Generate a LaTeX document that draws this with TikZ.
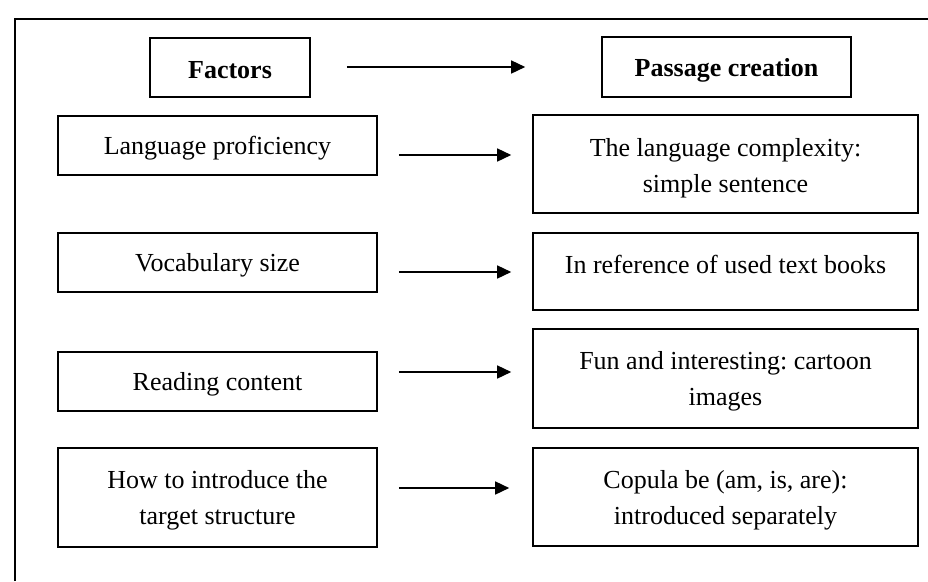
\documentclass[tikz,border=0pt]{standalone}
\usepackage{fontspec}
\setmainfont{Liberation Serif}
\frenchspacing
\usetikzlibrary{arrows.meta}
\tikzset{
  boxnode/.style={draw=black, line width=1.6pt, inner sep=0pt},
  leftbox/.style={boxnode, minimum width=319pt},
  rightbox/.style={boxnode, minimum width=385pt},
  txt/.style={inner sep=0pt, align=center, font=\fontsize{26}{36}\selectfont\frenchspacing},
  btxt/.style={txt, font=\fontsize{26}{36}\selectfont\bfseries},
  arr/.style={line width=1.5pt, -{Triangle[length=14pt,width=13pt]}},
  frameline/.style={line width=2pt}
}
\begin{document}
\begin{tikzpicture}[x=1pt,y=-1pt]
\useasboundingbox (0,0) rectangle (928,581);
\fill[white] (0,0) rectangle (928,581);
% outer frame
\coordinate (ftl) at (15,19);
\coordinate (ftr) at (928,19);
\coordinate (fbl) at (15,581);
\draw[frameline] (fbl) -- (ftl) -- (ftr);
% header
\node[boxnode, minimum width=160pt, minimum height=59pt] (fac) at (230,67.5) {};
\node[btxt] (facT) at ([yshift=-3pt]fac.center) {Factors};
\node[boxnode, minimum width=249pt, minimum height=60pt] (pas) at (726.5,67) {};
\node[btxt] (pasT) at ([yshift=-3pt]pas.center) {Passage creation};
% left column
\node[leftbox, minimum height=59pt] (L1) at (217.5,145.5) {};
\node[txt] (L1T) at ([yshift=-3pt]L1.center) {Language proficiency};
\node[leftbox, minimum height=59pt] (L2) at (217.5,262.5) {};
\node[txt] (L2T) at ([yshift=-3pt]L2.center) {Vocabulary size};
\node[leftbox, minimum height=59pt] (L3) at (217.5,381.5) {};
\node[txt] (L3T) at ([yshift=-3pt]L3.center) {Reading content};
\node[leftbox, minimum height=99pt] (L4) at (217.5,497.5) {};
\node[txt] (L4T) at ([yshift=-3pt]L4.center) {How to introduce the\\target structure};
% right column
\node[rightbox, minimum height=98pt] (R1) at (725.5,164) {};
\node[txt] (R1T) at ([yshift=-4pt]R1.center) {The language complexity:\\simple sentence};
\node[rightbox, minimum height=77pt] (R2) at (725.5,271.5) {};
\node[txt] (R2T) at ([yshift=7pt]R2.center) {In reference of used text books};
\node[rightbox, minimum height=99pt] (R3) at (725.5,378.5) {};
\node[txt] (R3T) at ([yshift=-3pt]R3.center) {Fun and interesting: cartoon\\images};
\node[rightbox, minimum height=98pt] (R4) at (725.5,497) {};
\node[txt] (R4T) at ([yshift=-3pt]R4.center) {Copula be (am, is, are):\\introduced separately};
% arrows
\draw[arr] ([xshift=36pt,yshift=0.5pt]fac.east) -- ([xshift=-76pt,yshift=0.5pt]fac.east -| pas.west);
\draw[arr] ([xshift=21pt,yshift=-9.5pt]L1.east) -- ([xshift=-21pt,yshift=-9.5pt]L1.east -| R1.west);
\draw[arr] ([xshift=21pt,yshift=-9.5pt]L2.east) -- ([xshift=-21pt,yshift=-9.5pt]L2.east -| R2.west);
\draw[arr] ([xshift=21pt,yshift=9.5pt]L3.east) -- ([xshift=-21pt,yshift=9.5pt]L3.east -| R3.west);
\draw[arr] ([xshift=21pt,yshift=9.5pt]L4.east) -- ([xshift=-23pt,yshift=9.5pt]L4.east -| R4.west);
\end{tikzpicture}
\end{document}
